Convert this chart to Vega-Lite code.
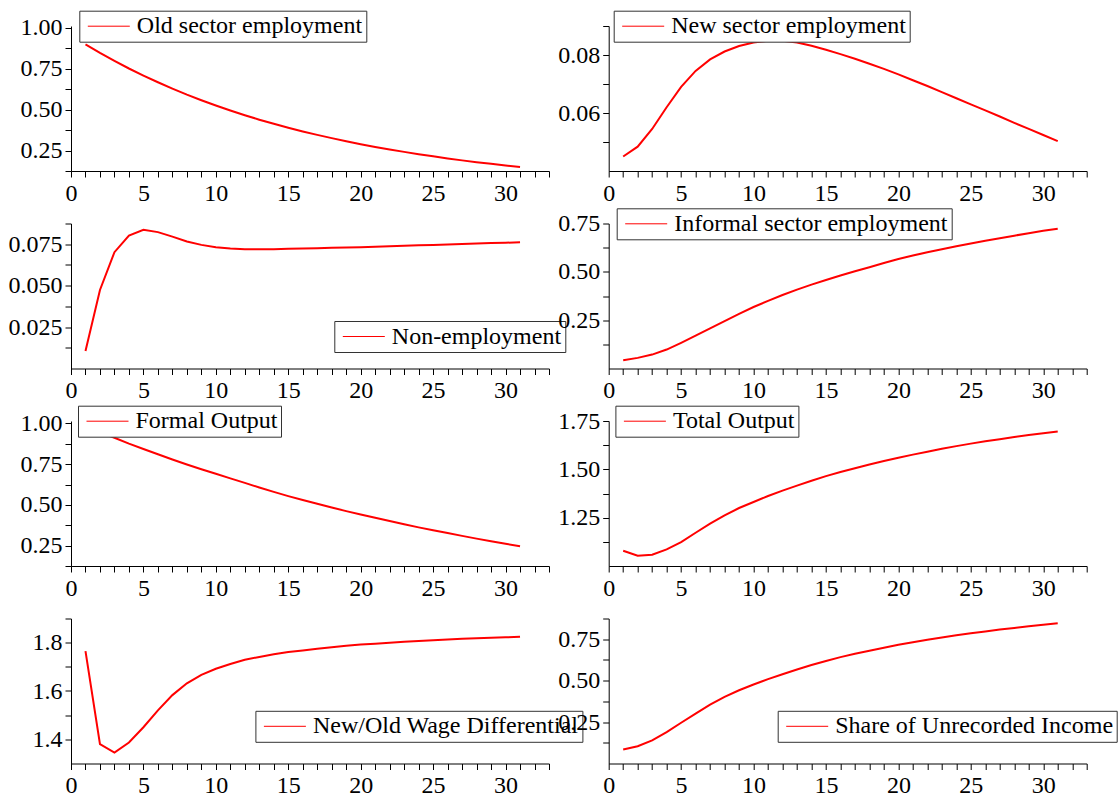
{
  "$schema": "https://vega.github.io/schema/vega-lite/v6.json",
  "background": "white",
  "padding": {"left": 8, "top": 10, "right": 0, "bottom": 0},
  "autosize": {"type": "pad"},
  "bounds": "flush",
  "columns": 2,
  "spacing": {"row": 52.5, "column": 59.7},
  "data": {"values": [
    {"t":1,"old":0.900,"new":0.0450,"non":0.0105,"inf":0.043,"fout":0.984,"tout":1.079,"wage":1.765,"share":0.084},
    {"t":2,"old":0.848,"new":0.0484,"non":0.0474,"inf":0.055,"fout":0.945,"tout":1.053,"wage":1.380,"share":0.104},
    {"t":3,"old":0.799,"new":0.0545,"non":0.0702,"inf":0.072,"fout":0.912,"tout":1.058,"wage":1.345,"share":0.139},
    {"t":4,"old":0.752,"new":0.0620,"non":0.0802,"inf":0.098,"fout":0.876,"tout":1.086,"wage":1.387,"share":0.189},
    {"t":5,"old":0.709,"new":0.0690,"non":0.0837,"inf":0.133,"fout":0.843,"tout":1.124,"wage":1.450,"share":0.246},
    {"t":6,"old":0.668,"new":0.0745,"non":0.0823,"inf":0.170,"fout":0.811,"tout":1.172,"wage":1.520,"share":0.301},
    {"t":7,"old":0.629,"new":0.0785,"non":0.0796,"inf":0.208,"fout":0.779,"tout":1.219,"wage":1.583,"share":0.355},
    {"t":8,"old":0.592,"new":0.0812,"non":0.0766,"inf":0.245,"fout":0.748,"tout":1.262,"wage":1.632,"share":0.402},
    {"t":9,"old":0.558,"new":0.0831,"non":0.0746,"inf":0.283,"fout":0.719,"tout":1.300,"wage":1.667,"share":0.442},
    {"t":10,"old":0.526,"new":0.0843,"non":0.0732,"inf":0.318,"fout":0.691,"tout":1.331,"wage":1.692,"share":0.477},
    {"t":11,"old":0.495,"new":0.0849,"non":0.0724,"inf":0.350,"fout":0.663,"tout":1.362,"wage":1.712,"share":0.509},
    {"t":12,"old":0.466,"new":0.0849,"non":0.0720,"inf":0.380,"fout":0.635,"tout":1.390,"wage":1.729,"share":0.539},
    {"t":13,"old":0.439,"new":0.0843,"non":0.0720,"inf":0.408,"fout":0.607,"tout":1.416,"wage":1.741,"share":0.567},
    {"t":14,"old":0.414,"new":0.0832,"non":0.0720,"inf":0.434,"fout":0.580,"tout":1.441,"wage":1.752,"share":0.594},
    {"t":15,"old":0.390,"new":0.0818,"non":0.0722,"inf":0.458,"fout":0.554,"tout":1.465,"wage":1.761,"share":0.619},
    {"t":16,"old":0.367,"new":0.0803,"non":0.0724,"inf":0.481,"fout":0.530,"tout":1.486,"wage":1.768,"share":0.642},
    {"t":17,"old":0.346,"new":0.0787,"non":0.0726,"inf":0.503,"fout":0.507,"tout":1.506,"wage":1.775,"share":0.662},
    {"t":18,"old":0.326,"new":0.0770,"non":0.0728,"inf":0.524,"fout":0.484,"tout":1.525,"wage":1.781,"share":0.681},
    {"t":19,"old":0.307,"new":0.0752,"non":0.0730,"inf":0.546,"fout":0.462,"tout":1.543,"wage":1.787,"share":0.699},
    {"t":20,"old":0.289,"new":0.0733,"non":0.0732,"inf":0.566,"fout":0.441,"tout":1.560,"wage":1.792,"share":0.716},
    {"t":21,"old":0.272,"new":0.0713,"non":0.0735,"inf":0.584,"fout":0.421,"tout":1.576,"wage":1.796,"share":0.732},
    {"t":22,"old":0.257,"new":0.0693,"non":0.0738,"inf":0.601,"fout":0.401,"tout":1.591,"wage":1.800,"share":0.747},
    {"t":23,"old":0.242,"new":0.0672,"non":0.0741,"inf":0.617,"fout":0.381,"tout":1.606,"wage":1.804,"share":0.761},
    {"t":24,"old":0.228,"new":0.0651,"non":0.0743,"inf":0.632,"fout":0.362,"tout":1.620,"wage":1.807,"share":0.774},
    {"t":25,"old":0.215,"new":0.0630,"non":0.0746,"inf":0.647,"fout":0.344,"tout":1.633,"wage":1.810,"share":0.786},
    {"t":26,"old":0.202,"new":0.0609,"non":0.0749,"inf":0.661,"fout":0.327,"tout":1.645,"wage":1.813,"share":0.797},
    {"t":27,"old":0.190,"new":0.0588,"non":0.0752,"inf":0.674,"fout":0.310,"tout":1.656,"wage":1.816,"share":0.808},
    {"t":28,"old":0.179,"new":0.0566,"non":0.0754,"inf":0.687,"fout":0.293,"tout":1.667,"wage":1.818,"share":0.818},
    {"t":29,"old":0.169,"new":0.0545,"non":0.0757,"inf":0.700,"fout":0.277,"tout":1.677,"wage":1.820,"share":0.828},
    {"t":30,"old":0.159,"new":0.0524,"non":0.0759,"inf":0.712,"fout":0.261,"tout":1.687,"wage":1.822,"share":0.837},
    {"t":31,"old":0.150,"new":0.0503,"non":0.0762,"inf":0.723,"fout":0.246,"tout":1.696,"wage":1.824,"share":0.846}
  ]},
  "resolve": {"scale": {"color": "independent"}, "legend": {"color": "independent"}},
  "concat": [
    {
      "width": 478, "height": 145,
      "mark": {"type": "line", "strokeWidth": 2},
      "encoding": {
        "x": {"field": "t", "type": "quantitative", "scale": {"domain": [0, 33], "nice": false, "zero": false},
              "axis": {"title": null, "values": [0,1,2,3,4,5,6,7,8,9,10,11,12,13,14,15,16,17,18,19,20,21,22,23,24,25,26,27,28,29,30,31,32,33], "labelExpr": "datum.value % 5 === 0 ? datum.label : ''", "tickSize": 6, "labelPadding": 4, "encode": {"ticks": {"update": {"y2": {"signal": "datum.value % 5 === 0 ? -10 : -6"}}}}}},
        "y": {"field": "old", "type": "quantitative", "scale": {"domain": [0.125, 1.012], "nice": false, "zero": false},
              "axis": {"title": null, "values": [0.125,0.25,0.375,0.5,0.625,0.75,0.875,1], "format": ".2f", "labelExpr": "indexof([0.25,0.5,0.75,1], datum.value) >= 0 ? datum.label : ''", "tickSize": 6, "labelPadding": 3, "encode": {"ticks": {"update": {"x2": {"signal": "indexof([0.25,0.5,0.75,1], datum.value) >= 0 ? 9 : 5"}}}}}},
        "color": {"datum": "Old sector employment", "type": "nominal", "scale": {"range": ["#ff0000"]}, "legend": {"title": null, "legendX": 8.3, "legendY": -15.3}}
      }
    },
    {
      "width": 478, "height": 145,
      "mark": {"type": "line", "strokeWidth": 2},
      "encoding": {
        "x": {"field": "t", "type": "quantitative", "scale": {"domain": [0, 33], "nice": false, "zero": false},
              "axis": {"title": null, "values": [0,1,2,3,4,5,6,7,8,9,10,11,12,13,14,15,16,17,18,19,20,21,22,23,24,25,26,27,28,29,30,31,32,33], "labelExpr": "datum.value % 5 === 0 ? datum.label : ''", "tickSize": 6, "labelPadding": 4, "encode": {"ticks": {"update": {"y2": {"signal": "datum.value % 5 === 0 ? -10 : -6"}}}}}},
        "y": {"field": "new", "type": "quantitative", "scale": {"domain": [0.04, 0.09], "nice": false, "zero": false},
              "axis": {"title": null, "values": [0.05,0.06,0.07,0.08,0.09], "format": ".2f", "labelExpr": "indexof([0.06,0.08], datum.value) >= 0 ? datum.label : ''", "tickSize": 6, "labelPadding": 3, "encode": {"ticks": {"update": {"x2": {"signal": "indexof([0.06,0.08], datum.value) >= 0 ? 9 : 5"}}}}}},
        "color": {"datum": "New sector employment", "type": "nominal", "scale": {"range": ["#ff0000"]}, "legend": {"title": null, "legendX": 5, "legendY": -15.3}}
      }
    },
    {
      "width": 478, "height": 145,
      "mark": {"type": "line", "strokeWidth": 2},
      "encoding": {
        "x": {"field": "t", "type": "quantitative", "scale": {"domain": [0, 33], "nice": false, "zero": false},
              "axis": {"title": null, "values": [0,1,2,3,4,5,6,7,8,9,10,11,12,13,14,15,16,17,18,19,20,21,22,23,24,25,26,27,28,29,30,31,32,33], "labelExpr": "datum.value % 5 === 0 ? datum.label : ''", "tickSize": 6, "labelPadding": 4, "encode": {"ticks": {"update": {"y2": {"signal": "datum.value % 5 === 0 ? -10 : -6"}}}}}},
        "y": {"field": "non", "type": "quantitative", "scale": {"domain": [0, 0.0875], "nice": false, "zero": false},
              "axis": {"title": null, "values": [0.0125,0.025,0.0375,0.05,0.0625,0.075,0.0875], "format": ".3f", "labelExpr": "indexof([0.025,0.05,0.075], datum.value) >= 0 ? datum.label : ''", "tickSize": 6, "labelPadding": 3, "encode": {"ticks": {"update": {"x2": {"signal": "indexof([0.025,0.05,0.075], datum.value) >= 0 ? 9 : 5"}}}}}},
        "color": {"datum": "Non-employment", "type": "nominal", "scale": {"range": ["#ff0000"]}, "legend": {"title": null, "legendX": 263.3, "legendY": 97.5}}
      }
    },
    {
      "width": 478, "height": 145,
      "mark": {"type": "line", "strokeWidth": 2},
      "encoding": {
        "x": {"field": "t", "type": "quantitative", "scale": {"domain": [0, 33], "nice": false, "zero": false},
              "axis": {"title": null, "values": [0,1,2,3,4,5,6,7,8,9,10,11,12,13,14,15,16,17,18,19,20,21,22,23,24,25,26,27,28,29,30,31,32,33], "labelExpr": "datum.value % 5 === 0 ? datum.label : ''", "tickSize": 6, "labelPadding": 4, "encode": {"ticks": {"update": {"y2": {"signal": "datum.value % 5 === 0 ? -10 : -6"}}}}}},
        "y": {"field": "inf", "type": "quantitative", "scale": {"domain": [0, 0.75], "nice": false, "zero": false},
              "axis": {"title": null, "values": [0.125,0.25,0.375,0.5,0.625,0.75], "format": ".2f", "labelExpr": "indexof([0.25,0.5,0.75], datum.value) >= 0 ? datum.label : ''", "tickSize": 6, "labelPadding": 3, "encode": {"ticks": {"update": {"x2": {"signal": "indexof([0.25,0.5,0.75], datum.value) >= 0 ? 9 : 5"}}}}}},
        "color": {"datum": "Informal sector employment", "type": "nominal", "scale": {"range": ["#ff0000"]}, "legend": {"title": null, "legendX": 8, "legendY": -15.2}}
      }
    },
    {
      "width": 478, "height": 145,
      "mark": {"type": "line", "strokeWidth": 2},
      "encoding": {
        "x": {"field": "t", "type": "quantitative", "scale": {"domain": [0, 33], "nice": false, "zero": false},
              "axis": {"title": null, "values": [0,1,2,3,4,5,6,7,8,9,10,11,12,13,14,15,16,17,18,19,20,21,22,23,24,25,26,27,28,29,30,31,32,33], "labelExpr": "datum.value % 5 === 0 ? datum.label : ''", "tickSize": 6, "labelPadding": 4, "encode": {"ticks": {"update": {"y2": {"signal": "datum.value % 5 === 0 ? -10 : -6"}}}}}},
        "y": {"field": "fout", "type": "quantitative", "scale": {"domain": [0.125, 1.015], "nice": false, "zero": false},
              "axis": {"title": null, "values": [0.125,0.25,0.375,0.5,0.625,0.75,0.875,1], "format": ".2f", "labelExpr": "indexof([0.25,0.5,0.75,1], datum.value) >= 0 ? datum.label : ''", "tickSize": 6, "labelPadding": 3, "encode": {"ticks": {"update": {"x2": {"signal": "indexof([0.25,0.5,0.75,1], datum.value) >= 0 ? 9 : 5"}}}}}},
        "color": {"datum": "Formal Output", "type": "nominal", "scale": {"range": ["#ff0000"]}, "legend": {"title": null, "legendX": 7, "legendY": -15.3}}
      }
    },
    {
      "width": 478, "height": 145,
      "mark": {"type": "line", "strokeWidth": 2},
      "encoding": {
        "x": {"field": "t", "type": "quantitative", "scale": {"domain": [0, 33], "nice": false, "zero": false},
              "axis": {"title": null, "values": [0,1,2,3,4,5,6,7,8,9,10,11,12,13,14,15,16,17,18,19,20,21,22,23,24,25,26,27,28,29,30,31,32,33], "labelExpr": "datum.value % 5 === 0 ? datum.label : ''", "tickSize": 6, "labelPadding": 4, "encode": {"ticks": {"update": {"y2": {"signal": "datum.value % 5 === 0 ? -10 : -6"}}}}}},
        "y": {"field": "tout", "type": "quantitative", "scale": {"domain": [1, 1.75], "nice": false, "zero": false},
              "axis": {"title": null, "values": [1.125,1.25,1.375,1.5,1.625,1.75], "format": ".2f", "labelExpr": "indexof([1.25,1.5,1.75], datum.value) >= 0 ? datum.label : ''", "tickSize": 6, "labelPadding": 3, "encode": {"ticks": {"update": {"x2": {"signal": "indexof([1.25,1.5,1.75], datum.value) >= 0 ? 9 : 5"}}}}}},
        "color": {"datum": "Total Output", "type": "nominal", "scale": {"range": ["#ff0000"]}, "legend": {"title": null, "legendX": 6.7, "legendY": -15.3}}
      }
    },
    {
      "width": 478, "height": 145,
      "mark": {"type": "line", "strokeWidth": 2},
      "encoding": {
        "x": {"field": "t", "type": "quantitative", "scale": {"domain": [0, 33], "nice": false, "zero": false},
              "axis": {"title": null, "values": [0,1,2,3,4,5,6,7,8,9,10,11,12,13,14,15,16,17,18,19,20,21,22,23,24,25,26,27,28,29,30,31,32,33], "labelExpr": "datum.value % 5 === 0 ? datum.label : ''", "tickSize": 6, "labelPadding": 4, "encode": {"ticks": {"update": {"y2": {"signal": "datum.value % 5 === 0 ? -10 : -6"}}}}}},
        "y": {"field": "wage", "type": "quantitative", "scale": {"domain": [1.3, 1.9], "nice": false, "zero": false},
              "axis": {"title": null, "values": [1.4,1.5,1.6,1.7,1.8,1.9], "format": ".1f", "labelExpr": "indexof([1.4,1.6,1.8], datum.value) >= 0 ? datum.label : ''", "tickSize": 6, "labelPadding": 3, "encode": {"ticks": {"update": {"x2": {"signal": "indexof([1.4,1.6,1.8], datum.value) >= 0 ? 9 : 5"}}}}}},
        "color": {"datum": "New/Old Wage Differential", "type": "nominal", "scale": {"range": ["#ff0000"]}, "legend": {"title": null, "legendX": 184.4, "legendY": 92.3}}
      }
    },
    {
      "width": 478, "height": 145,
      "mark": {"type": "line", "strokeWidth": 2},
      "encoding": {
        "x": {"field": "t", "type": "quantitative", "scale": {"domain": [0, 33], "nice": false, "zero": false},
              "axis": {"title": null, "values": [0,1,2,3,4,5,6,7,8,9,10,11,12,13,14,15,16,17,18,19,20,21,22,23,24,25,26,27,28,29,30,31,32,33], "labelExpr": "datum.value % 5 === 0 ? datum.label : ''", "tickSize": 6, "labelPadding": 4, "encode": {"ticks": {"update": {"y2": {"signal": "datum.value % 5 === 0 ? -10 : -6"}}}}}},
        "y": {"field": "share", "type": "quantitative", "scale": {"domain": [0, 0.875], "nice": false, "zero": false},
              "axis": {"title": null, "values": [0.125,0.25,0.375,0.5,0.625,0.75,0.875], "format": ".2f", "labelExpr": "indexof([0.25,0.5,0.75], datum.value) >= 0 ? datum.label : ''", "tickSize": 6, "labelPadding": 3, "encode": {"ticks": {"update": {"x2": {"signal": "indexof([0.25,0.5,0.75], datum.value) >= 0 ? 9 : 5"}}}}}},
        "color": {"datum": "Share of Unrecorded Income", "type": "nominal", "scale": {"range": ["#ff0000"]}, "legend": {"title": null, "legendX": 169, "legendY": 92.3}}
      }
    }
  ],
  "config": {
    "view": {"stroke": null},
    "axis": {"domainColor": "#000", "domainWidth": 1, "tickColor": "#000", "tickWidth": 1, "labelFont": "Liberation Serif", "labelFontSize": 24, "labelColor": "#000", "grid": false, "labelOverlap": false, "labelFlush": false, "labelBound": false},
    "legend": {"orient": "none", "strokeColor": "#333", "fillColor": "#fff", "padding": 3.5, "symbolType": "M-2.1,0L2.1,0", "symbolSize": 400, "symbolStrokeWidth": 1, "symbolOffset": 14, "labelOffset": 16, "labelFont": "Liberation Serif", "labelFontSize": 24, "labelColor": "#000", "cornerRadius": 0, "labelLimit": 0}
  }
}
